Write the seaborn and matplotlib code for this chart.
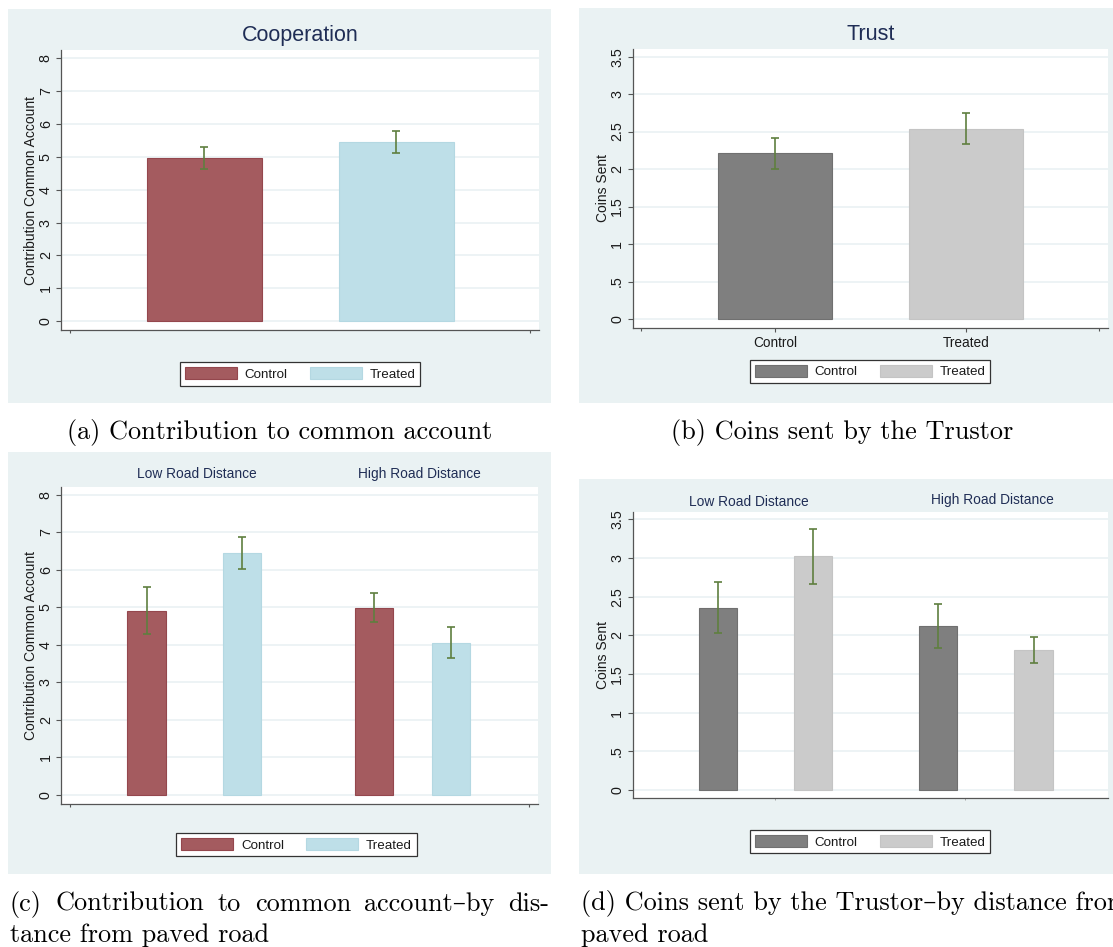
import numpy as np
import pandas as pd
import matplotlib
matplotlib.use("Agg")
import matplotlib.pyplot as plt
from matplotlib.patches import Patch, Rectangle
import seaborn as sns

# ------------------------------------------------------------------ data
groups = ["Control", "Treated"]
road_levels = ["Low Road Distance", "High Road Distance"]

coop_mean = [4.96, 5.44]
coop_lo = [4.62, 5.11]
coop_hi = [5.31, 5.78]

trust_mean = [2.21, 2.535]
trust_lo = [2.00, 2.33]
trust_hi = [2.42, 2.75]

# order: Low-Control, Low-Treated, High-Control, High-Treated
road_of_bar = ["Low Road Distance", "Low Road Distance", "High Road Distance", "High Road Distance"]
group_of_bar = ["Control", "Treated", "Control", "Treated"]

coop_road_mean = [4.90, 6.44, 4.98, 4.05]
coop_road_lo = [4.28, 6.02, 4.60, 3.65]
coop_road_hi = [5.55, 6.87, 5.39, 4.47]

trust_road_mean = [2.36, 3.02, 2.12, 1.81]
trust_road_lo = [2.03, 2.67, 1.84, 1.64]
trust_road_hi = [2.69, 3.38, 2.40, 1.98]

coop_ticks = [0, 1, 2, 3, 4, 5, 6, 7, 8]
coop_ticklabels = ["0", "1", "2", "3", "4", "5", "6", "7", "8"]
trust_ticks = [0, 0.5, 1, 1.5, 2, 2.5, 3, 3.5]
trust_ticklabels = ["0", ".5", "1", "1.5", "2", "2.5", "3", "3.5"]

titles = ["Cooperation", "Trust"]
ylabels = ["Contribution Common Account", "Coins Sent"]
captions = {
    "a": "(a) Contribution to common account",
    "b": "(b) Coins sent by the Trustor",
    "c": ["(c) Contribution to common account\u2013by dis-", "tance from paved road"],
    "d": ["(d) Coins sent by the Trustor\u2013by distance from", "paved road"],
}

# ------------------------------------------------------------------ layout / style
W, H, DPI = 1113, 947, 100
BG = "#EAF2F3"
GRID = "#E8F0F2"
AXC = "#555555"
NAVY = "#1F2D55"
TXT = "#1A1A1A"
ERR = "#5F7F3F"
RED, RED_EDGE = "#A45B5F", "#94474D"
BLUE, BLUE_EDGE = "#BEDFE8", "#B4D8E2"
DGRAY, DGRAY_EDGE = "#7F7F7F", "#707070"
LGRAY, LGRAY_EDGE = "#CBCBCB", "#C4C4C4"

# bar slots on the x axis for the by-distance panels (low pair, gap, high pair)
SLOT_C = [0.0, 1.0, 2.38, 3.19]
SLOT_D = [0.0, 1.0, 2.31, 3.31]
BAR_W = 0.40

sns.set_style("white")
plt.rcParams["font.family"] = ["Liberation Sans", "DejaVu Sans"]
SERIF = ["cmr10", "DejaVu Serif"]

fig = plt.figure(figsize=(W / DPI, H / DPI), dpi=DPI)
fig.patch.set_facecolor("white")


def rect(l, t, r, b):
    return [l / W, 1 - b / H, (r - l) / W, (b - t) / H]


def fxy(x, y):
    return x / W, 1 - y / H


def panel_bg(l, t, r, b):
    fig.patches.append(Rectangle((l / W, 1 - b / H), (r - l) / W, (b - t) / H,
                                 transform=fig.transFigure, facecolor=BG,
                                 edgecolor="none", zorder=-5))


def style_axes(ax, ylim, xlim, ticks, ticklabels, ylabel, ylabel_x):
    ax.set_facecolor("white")
    ax.set_ylim(*ylim)
    ax.set_xlim(*xlim)
    ax.set_yticks(ticks)
    ax.set_yticklabels(ticklabels)
    ax.yaxis.grid(True, color=GRID, linewidth=1.1)
    ax.xaxis.grid(False)
    ax.set_axisbelow(True)
    for s in ["top", "right"]:
        ax.spines[s].set_visible(False)
    for s in ["left", "bottom"]:
        ax.spines[s].set_color(AXC)
        ax.spines[s].set_linewidth(0.9)
    ax.tick_params(axis="y", left=True, length=3.8, width=0.8, color=AXC, pad=2.4,
                   labelsize=10.3, labelcolor=TXT, labelrotation=90)
    plt.setp(ax.get_yticklabels(), va="center")
    ax.set_xlabel("")
    ax.set_ylabel(ylabel, fontsize=10, color=TXT)
    ax.yaxis.set_label_coords(ylabel_x, 0.5)


def add_errorbars(ax, xs, mean, lo, hi):
    m = np.asarray(mean)
    yerr = [m - np.asarray(lo), np.asarray(hi) - m]
    ax.errorbar(xs, m, yerr=yerr, fmt="none", ecolor=ERR, elinewidth=1.2,
                capsize=2.6, capthick=1.2, zorder=4)


def add_legend(colors, edges, cx, cy):
    handles = [Patch(facecolor=c, edgecolor=e, linewidth=0.8) for c, e in zip(colors, edges)]
    leg = fig.legend(handles, groups, loc="center", bbox_to_anchor=fxy(cx, cy),
                     bbox_transform=fig.transFigure, ncol=2, frameon=True,
                     fancybox=False, shadow=False, framealpha=1, edgecolor="#333333",
                     fontsize=9.6, handlelength=3.9, handleheight=1.05,
                     handletextpad=0.6, columnspacing=1.65, borderpad=0.35)
    leg.get_frame().set_linewidth(0.9)
    for t in leg.get_texts():
        t.set_color(TXT)


# ------------------------------------------------------------------ (a) Cooperation
panel_bg(8, 9, 551, 403)
ax_a = fig.add_axes(rect(61.4, 50, 538.6, 330.3))
df_a = pd.DataFrame({"group": groups, "value": coop_mean})
sns.barplot(data=df_a, x="group", y="value", hue="group", palette=[RED, BLUE],
            width=0.6, errorbar=None, legend=False, saturation=1, ax=ax_a,
            linewidth=0.8)
for p, e in zip(ax_a.patches, [RED_EDGE, BLUE_EDGE]):
    p.set_edgecolor(e)
add_errorbars(ax_a, [0, 1], coop_mean, coop_lo, coop_hi)
style_axes(ax_a, (-0.283, 8.254), (-0.746, 1.744), coop_ticks, coop_ticklabels,
           ylabels[0], -0.049)
ax_a.set_xticks([-0.70, 1.70])
ax_a.set_xticklabels([])
ax_a.tick_params(axis="x", bottom=True, length=2.2, width=0.8, color=AXC)
fig.text(*fxy(300, 35), titles[0], ha="center", va="center", fontsize=15.5, color=NAVY)
add_legend([RED, BLUE], [RED_EDGE, BLUE_EDGE], 300, 374)

# ------------------------------------------------------------------ (b) Trust
panel_bg(579, 8, 1113, 403)
ax_b = fig.add_axes(rect(632.7, 49, 1107.6, 327.7))
df_b = pd.DataFrame({"group": groups, "value": trust_mean})
sns.barplot(data=df_b, x="group", y="value", hue="group", palette=[DGRAY, LGRAY],
            width=0.6, errorbar=None, legend=False, saturation=1, ax=ax_b,
            linewidth=0.8)
for p, e in zip(ax_b.patches, [DGRAY_EDGE, LGRAY_EDGE]):
    p.set_edgecolor(e)
add_errorbars(ax_b, [0, 1], trust_mean, trust_lo, trust_hi)
style_axes(ax_b, (-0.116, 3.602), (-0.746, 1.743), trust_ticks, trust_ticklabels,
           ylabels[1], -0.048)
ax_b.set_xticks([0, 1])
ax_b.set_xticklabels(groups)
ax_b.set_xticks([-0.70, 1.70], minor=True)
ax_b.tick_params(axis="x", which="major", bottom=True, length=3.2, width=0.8, color=AXC,
                 pad=2.7, labelsize=9.8, labelcolor=TXT)
ax_b.tick_params(axis="x", which="minor", bottom=True, length=2.2, width=0.8, color=AXC)
fig.text(*fxy(871, 35), titles[1], ha="center", va="center", fontsize=15.5, color=NAVY)
add_legend([DGRAY, LGRAY], [DGRAY_EDGE, LGRAY_EDGE], 870, 371.5)

# ------------------------------------------------------------------ (c) Cooperation by road distance
panel_bg(8, 452, 551, 874)
ax_c = fig.add_axes(rect(61.4, 486.7, 537.9, 804))
df_c = pd.DataFrame({"road": road_of_bar, "group": group_of_bar,
                     "value": coop_road_mean, "slot": SLOT_C})
sns.barplot(data=df_c, x="slot", y="value", hue="group", palette=[RED, BLUE],
            native_scale=True, dodge=False, width=BAR_W / np.min(np.diff(sorted(SLOT_C))),
            errorbar=None, legend=False, saturation=1, ax=ax_c, linewidth=0.8)
for p in ax_c.patches:
    fc = matplotlib.colors.to_hex(p.get_facecolor())
    p.set_edgecolor(RED_EDGE if fc.lower() == RED.lower() else BLUE_EDGE)
add_errorbars(ax_c, SLOT_C, coop_road_mean, coop_road_lo, coop_road_hi)
style_axes(ax_c, (-0.248, 8.213), (-0.892, 4.097), coop_ticks, coop_ticklabels,
           ylabels[0], -0.049)
ax_c.set_xticks([-0.798, 4.004])
ax_c.set_xticklabels([])
ax_c.tick_params(axis="x", bottom=True, length=2.2, width=0.8, color=AXC)
fig.text(*fxy(197, 474.3), road_levels[0], ha="center", va="center", fontsize=9.9, color=NAVY)
fig.text(*fxy(419.3, 474.3), road_levels[1], ha="center", va="center", fontsize=9.9, color=NAVY)
add_legend([RED, BLUE], [RED_EDGE, BLUE_EDGE], 296.5, 844.8)

# ------------------------------------------------------------------ (d) Trust by road distance
panel_bg(579, 479, 1113, 874)
ax_d = fig.add_axes(rect(632.7, 511.7, 1107.6, 798.3))
df_d = pd.DataFrame({"road": road_of_bar, "group": group_of_bar,
                     "value": trust_road_mean, "slot": SLOT_D})
sns.barplot(data=df_d, x="slot", y="value", hue="group", palette=[DGRAY, LGRAY],
            native_scale=True, dodge=False, width=BAR_W / np.min(np.diff(sorted(SLOT_D))),
            errorbar=None, legend=False, saturation=1, ax=ax_d, linewidth=0.8)
for p in ax_d.patches:
    fc = matplotlib.colors.to_hex(p.get_facecolor())
    p.set_edgecolor(DGRAY_EDGE if fc.lower() == DGRAY.lower() else LGRAY_EDGE)
add_errorbars(ax_d, SLOT_D, trust_road_mean, trust_road_lo, trust_road_hi)
style_axes(ax_d, (-0.107, 3.599), (-0.892, 4.086), trust_ticks, trust_ticklabels,
           ylabels[1], -0.048)
ax_d.set_xticks([0.60, 2.596])
ax_d.set_xticklabels([])
ax_d.tick_params(axis="x", bottom=True, length=1.5, width=0.6, color="#9A9A9A")
fig.text(*fxy(749.2, 502.3), road_levels[0], ha="center", va="center", fontsize=9.9, color=NAVY)
fig.text(*fxy(992, 500), road_levels[1], ha="center", va="center", fontsize=9.9, color=NAVY)
add_legend([DGRAY, LGRAY], [DGRAY_EDGE, LGRAY_EDGE], 870, 841.8)

# ------------------------------------------------------------------ captions
CAP_FS = 18.9
cap_kw = dict(fontsize=CAP_FS, family=SERIF, color="black", va="center")
fig.text(*fxy(279.5, 432), captions["a"], ha="center", **cap_kw)
fig.text(*fxy(842.5, 432), captions["b"], ha="center", **cap_kw)

# justified first line of caption (c)
renderer = fig.canvas.get_renderer()
words = captions["c"][0].split(" ")
word_texts = [fig.text(0, 0, w, ha="left", **cap_kw) for w in words]
widths = [t.get_window_extent(renderer).width for t in word_texts]
x_left, x_right = 10.0, 549.3
gap = (x_right - x_left - sum(widths)) / (len(words) - 1)
x = x_left
for t, w in zip(word_texts, widths):
    t.set_position(fxy(x, 904))
    x += w + gap
fig.text(*fxy(10, 935), captions["c"][1], ha="left", **cap_kw)

fig.text(*fxy(581.2, 903), captions["d"][0], ha="left", **cap_kw)
fig.text(*fxy(581.2, 935), captions["d"][1], ha="left", **cap_kw)

fig.savefig("out.png", dpi=DPI, facecolor="white")
